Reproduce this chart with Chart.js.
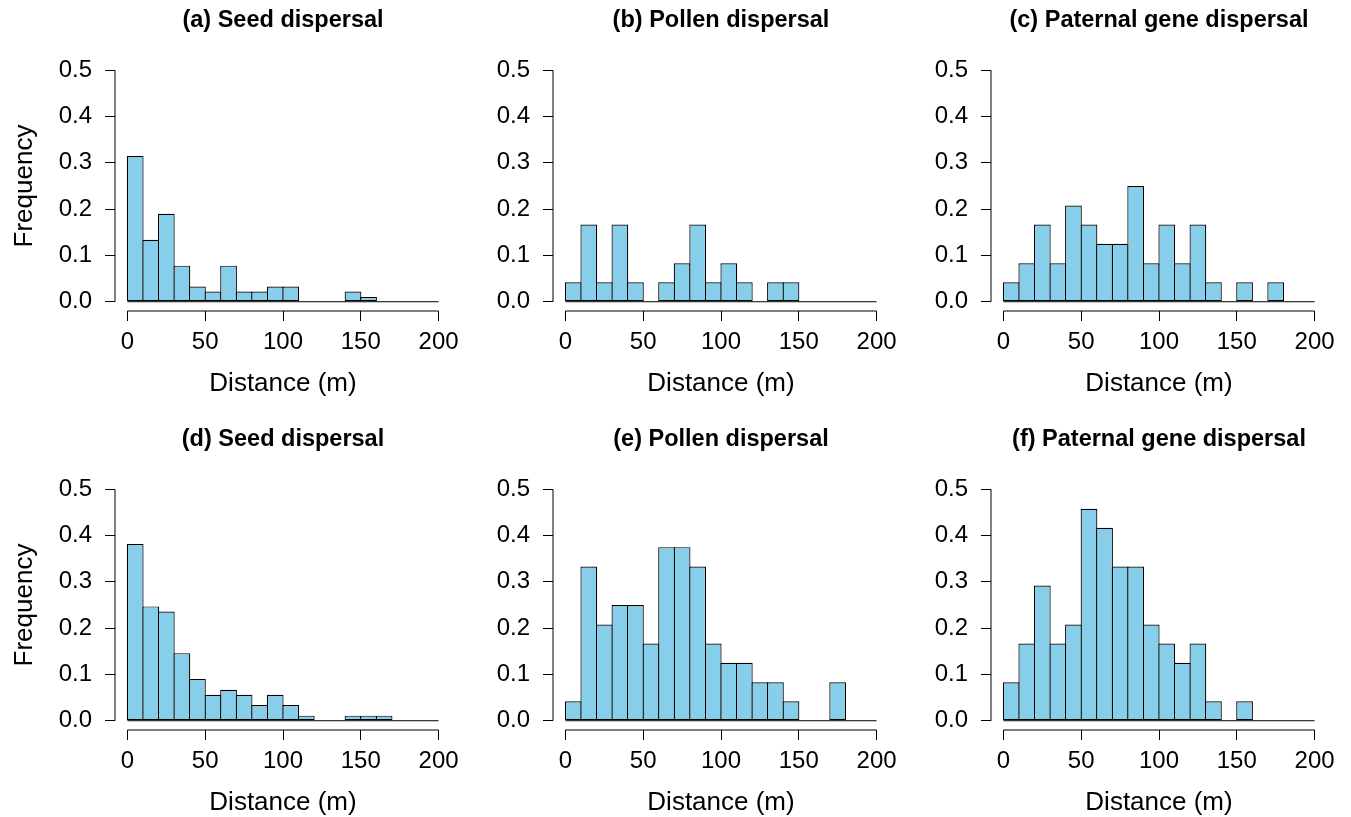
<!DOCTYPE html>
<html>
<head>
<meta charset="utf-8">
<script src="https://cdn.jsdelivr.net/npm/chart.js@4.4.1/dist/chart.umd.min.js"></script>
<style>
    body { margin: 0; background: #fff; }
    #wrap { position: relative; width: 1351px; height: 817px; overflow: hidden; }
    #wrap canvas { position: absolute; }
</style>
</head>
<body>
<div id="wrap"></div>
<script>
// histogram bins (left edge of each 10 m class)
const binStarts = [0, 10, 20, 30, 40, 50, 60, 70, 80, 90, 100, 110, 120, 130, 140, 150, 160, 170, 180, 190];
const xTicks = [0, 50, 100, 150, 200];
const yTicks = [0, 0.1, 0.2, 0.3, 0.4, 0.5];

// frequencies
const seedA     = [0.315, 0.134, 0.190, 0.078, 0.033, 0.022, 0.078, 0.022, 0.022, 0.033, 0.033, 0, 0, 0, 0.022, 0.010, 0, 0, 0, 0];
const pollenB   = [0.042, 0.167, 0.042, 0.167, 0.042, 0, 0.042, 0.083, 0.167, 0.042, 0.083, 0.042, 0, 0.042, 0.042, 0, 0, 0, 0, 0];
const paternalC = [0.042, 0.083, 0.167, 0.083, 0.208, 0.167, 0.125, 0.125, 0.250, 0.083, 0.167, 0.083, 0.167, 0.042, 0, 0.042, 0, 0.042, 0, 0];
const seedD     = [0.382, 0.247, 0.236, 0.146, 0.090, 0.056, 0.067, 0.056, 0.034, 0.056, 0.034, 0.011, 0, 0, 0.011, 0.011, 0.011, 0, 0, 0];
const pollenE   = [0.042, 0.333, 0.208, 0.250, 0.250, 0.167, 0.375, 0.375, 0.333, 0.167, 0.125, 0.125, 0.083, 0.083, 0.042, 0, 0, 0.083, 0, 0];
const paternalF = [0.083, 0.167, 0.292, 0.167, 0.208, 0.458, 0.417, 0.333, 0.333, 0.208, 0.167, 0.125, 0.167, 0.042, 0, 0.042, 0, 0, 0, 0];

const titles = [
    '(a) Seed dispersal', '(b) Pollen dispersal', '(c) Paternal gene dispersal',
    '(d) Seed dispersal', '(e) Pollen dispersal', '(f) Paternal gene dispersal'
];
const series = [seedA, pollenB, paternalC, seedD, pollenE, paternalF];

const FONT = "'Liberation Sans', Arial, Helvetica, sans-serif";
Chart.defaults.font.family = FONT;
Chart.defaults.color = '#000';

// canvas placement of each panel (column / row origin)
const colLeft = [0, 438, 876];
const rowTop = [0, 419];
const CW = 471, CH = 403;

// R style axes: lines only span first..last tick, plus the panel title
const rAxes = {
    id: 'rAxes',
    afterDraw(chart, args, opts) {
        const ctx = chart.ctx;
        const a = chart.chartArea;
        const xs = chart.scales.x, ys = chart.scales.y;
        ctx.save();
        ctx.strokeStyle = '#000';
        ctx.lineWidth = 1;
        ctx.beginPath();
        ctx.moveTo(a.left, ys.getPixelForValue(yTicks[0]));
        ctx.lineTo(a.left, ys.getPixelForValue(yTicks[yTicks.length - 1]));
        ctx.moveTo(xs.getPixelForValue(xTicks[0]), a.bottom);
        ctx.lineTo(xs.getPixelForValue(xTicks[xTicks.length - 1]), a.bottom);
        ctx.stroke();
        ctx.fillStyle = '#000';
        ctx.font = 'bold 23.5px ' + FONT;
        ctx.textAlign = 'center';
        ctx.textBaseline = 'middle';
        ctx.fillText(opts.text, (a.left + a.right) / 2, a.top - 40);
        ctx.restore();
    }
};

const wrap = document.getElementById('wrap');

series.forEach(function(values, i) {
    const col = i % 3, row = Math.floor(i / 3);
    const canvas = document.createElement('canvas');
    canvas.width = CW;
    canvas.height = CH;
    canvas.style.left = colLeft[col] + 'px';
    canvas.style.top = rowTop[row] + 'px';
    wrap.appendChild(canvas);

    new Chart(canvas, {
        type: 'bar',
        data: {
            datasets: [{
                type: 'bar',
                data: binStarts.map((b, k) => ({ x: b + 5, y: values[k] })),
                backgroundColor: '#87CEEB',
                borderColor: '#000',
                borderWidth: 1.2,
                borderSkipped: false,
                barPercentage: 1.075,
                categoryPercentage: 1,
                order: 1
            }, {
                // zero-height classes drawn as the baseline
                type: 'line',
                data: [{ x: xTicks[0], y: 0 }, { x: xTicks[xTicks.length - 1], y: 0 }],
                borderColor: '#000',
                borderWidth: 1,
                pointRadius: 0,
                order: 2
            }]
        },
        plugins: [rAxes],
        options: {
            responsive: false,
            animation: false,
            events: [],
            layout: { padding: { left: 0, top: 61, right: 20, bottom: 2 } },
            plugins: {
                legend: { display: false },
                tooltip: { enabled: false },
                rAxes: { text: titles[i] }
            },
            scales: {
                x: {
                    type: 'linear',
                    min: -8,
                    max: 208,
                    offset: false,
                    afterBuildTicks: s => { s.ticks = xTicks.map(v => ({ value: v })); },
                    afterFit: s => { s.height = 90; },
                    grid: { offset: false, drawOnChartArea: false, drawTicks: true, tickLength: 10, color: '#000' },
                    border: { display: false },
                    ticks: { padding: 7, maxRotation: 0, font: { size: 24 }, callback: v => String(v) },
                    title: { display: true, text: 'Distance (m)', font: { size: 26 }, padding: { top: 0, bottom: 2 } }
                },
                y: {
                    min: -0.02,
                    max: 0.52,
                    afterBuildTicks: s => { s.ticks = yTicks.map(v => ({ value: v })); },
                    afterFit: s => { s.width = 115; },
                    grid: { drawOnChartArea: false, drawTicks: true, tickLength: 10, color: '#000' },
                    border: { display: false },
                    ticks: { padding: 13, font: { size: 24 }, callback: v => v.toFixed(1) },
                    title: { display: col === 0, text: 'Frequency', font: { size: 26 }, padding: { top: 9, bottom: 0 } }
                }
            }
        }
    });
});
</script>
</body>
</html>
